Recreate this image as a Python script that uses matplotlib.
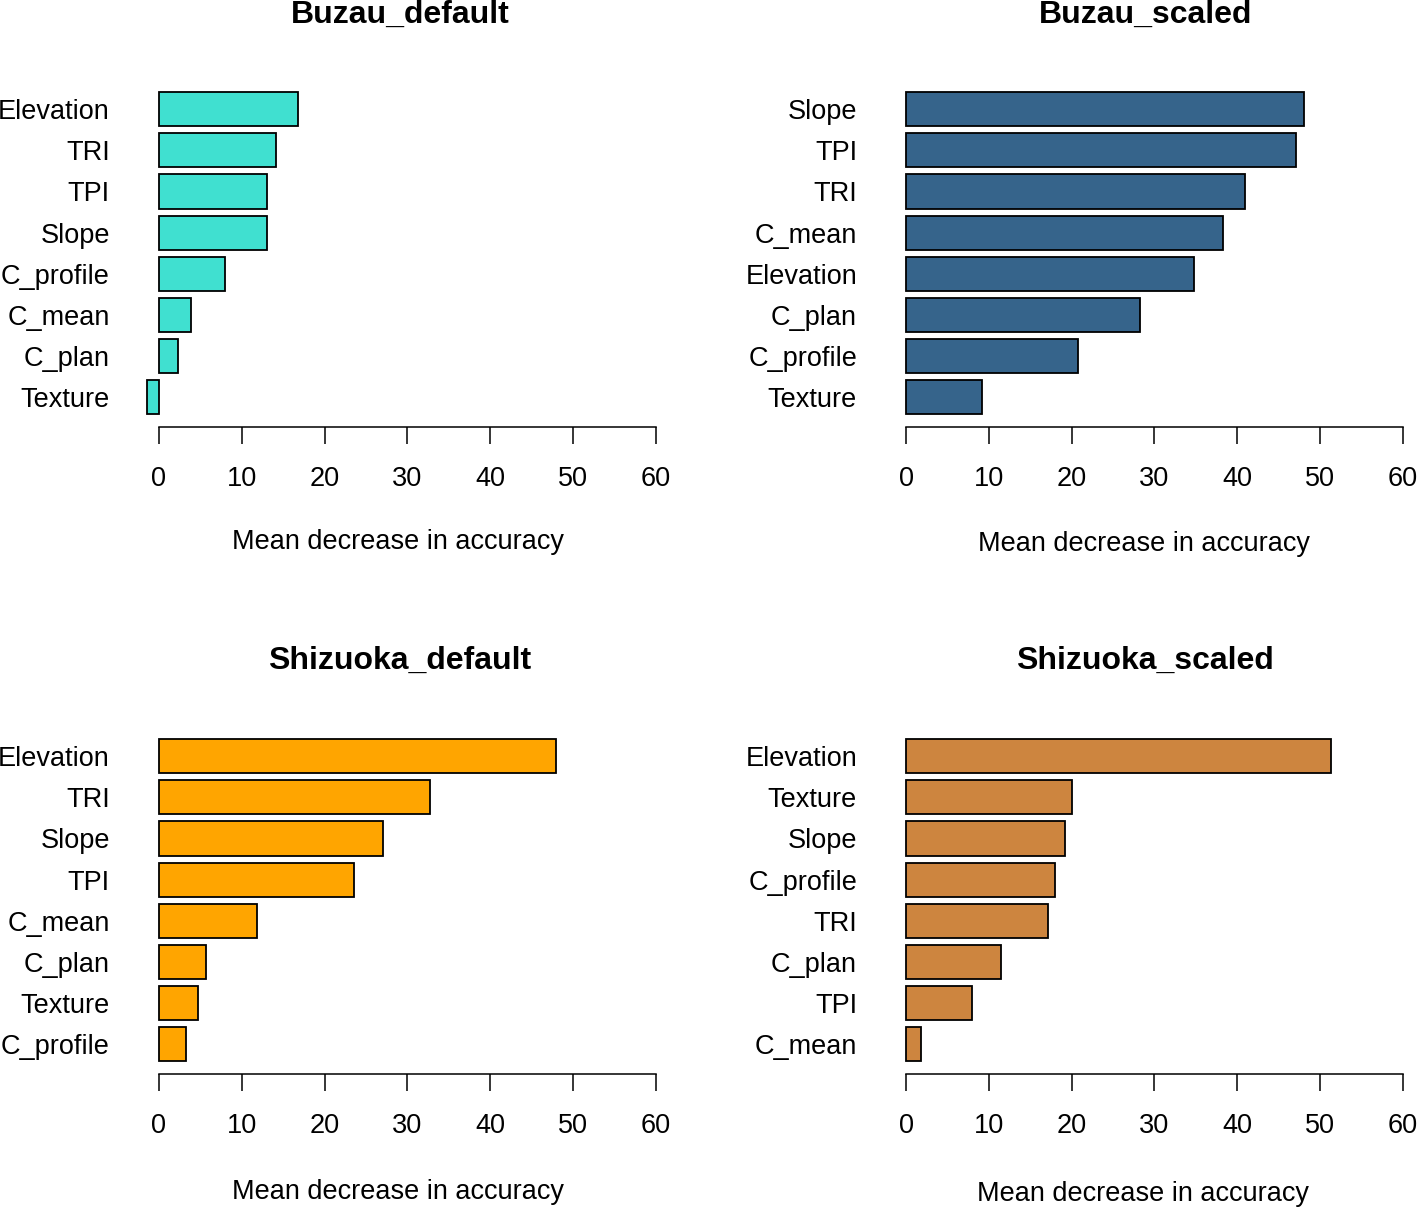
import matplotlib
matplotlib.use("Agg")
from matplotlib import pyplot as plt

plt.rcParams['font.family'] = ['Liberation Sans', 'DejaVu Sans']

# data (top to bottom as shown)
bd_labels = ["Elevation", "TRI", "TPI", "Slope", "C_profile", "C_mean", "C_plan", "Texture"]
bd_values = [16.8, 14.1, 13.0, 13.0, 8.0, 3.9, 2.3, -1.4]

bs_labels = ["Slope", "TPI", "TRI", "C_mean", "Elevation", "C_plan", "C_profile", "Texture"]
bs_values = [48.1, 47.1, 40.9, 38.3, 34.8, 28.2, 20.8, 9.2]

sd_labels = ["Elevation", "TRI", "Slope", "TPI", "C_mean", "C_plan", "Texture", "C_profile"]
sd_values = [47.9, 32.7, 27.0, 23.5, 11.8, 5.7, 4.7, 3.3]

ss_labels = ["Elevation", "Texture", "Slope", "C_profile", "TRI", "C_plan", "TPI", "C_mean"]
ss_values = [51.3, 20.0, 19.2, 18.0, 17.1, 11.5, 8.0, 1.8]

titles = ["Buzau_default", "Buzau_scaled", "Shizuoka_default", "Shizuoka_scaled"]
colors = ["#40E0D0", "#36648B", "#FFA500", "#CD853F"]
xticks = [0, 10, 20, 30, 40, 50, 60]

W, H = 1418, 1210
fig = plt.figure(figsize=(W / 100, H / 100), dpi=100)

# label lists, values, axes left px, axis-line px, text centre px, title px, xlabel px
panels = [
    (bd_labels, bd_values, 139.1, 427, 400, 15, 542),
    (bs_labels, bs_values, 886.2, 427, 1146, 15, 544),
    (sd_labels, sd_values, 139.1, 1074, 400, 661, 1192),
    (ss_labels, ss_values, 886.2, 1074, 1145, 661, 1194),
]

for i, (labels, values, left, axis_y, cx, t_y, xl_y) in enumerate(panels):
    ax_h = 8.33 * 41.1
    ax = fig.add_axes([left / W, 1 - axis_y / H, 536.5 / W, ax_h / H])
    n = len(labels)
    ys = list(range(n - 1, -1, -1))
    ax.barh(ys, values, height=0.83, color=colors[i], edgecolor="black", linewidth=1.3)
    ax.set_xlim(-2.4, 62.4)
    ax.set_ylim(-0.73, 7.6)
    ax.set_yticks(ys)
    ax.set_yticklabels(labels, fontsize=19.5)
    ax.tick_params(axis="y", length=0, pad=21)
    ax.set_xticks(xticks)
    ax.set_xticklabels([str(t) for t in xticks], fontsize=19.5)
    ax.tick_params(axis="x", length=12.2, width=1.1, pad=16, direction="out")
    for s in ["top", "right", "left"]:
        ax.spines[s].set_visible(False)
    ax.spines["bottom"].set_bounds(0, 60)
    ax.spines["bottom"].set_linewidth(1.1)
    fig.text(cx / W, 1 - t_y / H, titles[i], ha="center", va="center",
             fontsize=23, fontweight="bold")
    fig.text((cx - 2) / W, 1 - xl_y / H, "Mean decrease in accuracy", ha="center",
             va="center", fontsize=19.5)

fig.savefig("out.png", dpi=100)
